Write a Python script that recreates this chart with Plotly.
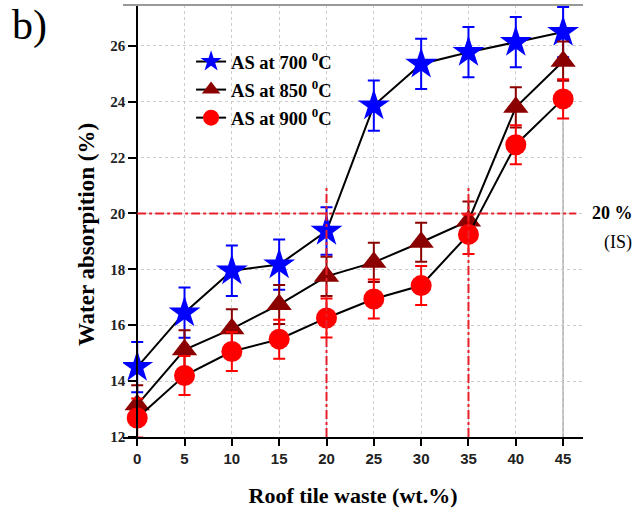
import plotly.graph_objects as go

x_vals = [0, 5, 10, 15, 20, 25, 30, 35, 40, 45]
as700 = [14.5, 16.45, 17.95, 18.17, 19.37, 23.86, 25.35, 25.77, 26.13, 26.49]
as700_err = [0.9, 0.9, 0.9, 0.9, 0.85, 0.9, 0.9, 0.9, 0.9, 0.9]
as850 = [13.15, 15.12, 15.87, 16.74, 17.75, 18.25, 18.97, 19.73, 23.8, 25.45]
as850_err = [0.7, 0.7, 0.7, 0.7, 0.7, 0.7, 0.7, 0.7, 0.72, 0.7]
as900 = [12.68, 14.2, 15.06, 15.5, 16.26, 16.94, 17.42, 19.25, 22.46, 24.1]
as900_err = [0.7, 0.7, 0.7, 0.7, 0.7, 0.7, 0.7, 0.7, 0.7, 0.7]
series_names = ["AS at 700 <sup>0</sup>C", "AS at 850 <sup>0</sup>C", "AS at 900 <sup>0</sup>C"]
x_ticks = [0, 5, 10, 15, 20, 25, 30, 35, 40, 45]
y_ticks = [12, 14, 16, 18, 20, 22, 24, 26]

XMIN, XMAX = -1.5, 47.1
YMIN, YMAX = 12, 27.46

serif = "Liberation Serif"
sans = "Liberation Sans"

fig = go.Figure()
specs = [
    (as700, as700_err, "star", "#0000FF", 24),
    (as850, as850_err, "triangle-up", "#8B0000", 22),
    (as900, as900_err, "circle", "#FF0000", 21),
]
for i, ((vals, err, sym, col, sz), name) in enumerate(zip(specs, series_names)):
    fig.add_trace(go.Scatter(
        x=x_vals, y=vals, mode="lines+markers",
        name="<b>" + name + "</b>", legendgroup="g%d" % i,
        line=dict(color="black", width=2),
        marker=dict(symbol=sym, color=col, size=sz, line=dict(width=0)),
        error_y=dict(type="data", array=err, visible=True, color=col, thickness=2, width=6),
    ))

# reference lines
fig.add_shape(type="line", x0=0, x1=46.4, y0=20, y1=20, xref="x", yref="y",
              line=dict(color="#E8202A", width=2, dash="dashdot"))
for xv in [20, 35]:
    fig.add_shape(type="line", x0=xv, x1=xv, y0=12, y1=21, xref="x", yref="y",
                  line=dict(color="#E8202A", width=2, dash="dashdot"))
# frame lines
fig.add_shape(type="line", x0=0, x1=1, y0=1, y1=1, xref="paper", yref="paper",
              line=dict(color="#999999", width=2))
fig.add_shape(type="line", x0=45, x1=45, y0=12, y1=YMAX, xref="x", yref="y",
              line=dict(color="#AAAAAA", width=1.5), layer="below")

fig.add_annotation(text="b)", xref="paper", yref="paper", x=-0.245, y=1.012, showarrow=False,
                   xanchor="left", yanchor="top", font=dict(family=serif, size=42, color="black"))
fig.add_annotation(text="<b>20 %</b>", xref="paper", yref="y", x=1.015, y=20, showarrow=False,
                   xanchor="left", yanchor="middle", font=dict(family=serif, size=18, color="black"))
fig.add_annotation(text="(IS)", xref="paper", yref="y", x=1.041, y=18.95, showarrow=False,
                   xanchor="left", yanchor="middle", font=dict(family=serif, size=18, color="black"))
fig.add_annotation(text="<b>Water absorpition (%)</b>", xref="paper", yref="paper",
                   x=-0.078, y=0.4676, textangle=-90, showarrow=False,
                   xanchor="center", yanchor="middle",
                   font=dict(family=serif, size=23, color="black"))

fig.update_layout(
    width=639, height=515,
    margin=dict(l=123, r=56, t=5, b=78),
    paper_bgcolor="white", plot_bgcolor="white",
    showlegend=True,
    legend=dict(x=0.148, y=0.912, xanchor="left", yanchor="top",
                bgcolor="rgba(0,0,0,0)", borderwidth=0,
                font=dict(family=serif, size=18.5, color="black"),
                tracegroupgap=1, itemsizing="trace"),
    xaxis=dict(range=[XMIN, XMAX], tickmode="array", tickvals=x_ticks,
               ticktext=["<b>%d</b>" % t for t in x_ticks],
               showline=True, linecolor="black", linewidth=2,
               ticks="outside", ticklen=7, tickwidth=2, tickcolor="black",
               tickfont=dict(family=sans, size=15, color="#222222"),
               showgrid=True, gridcolor="#CCCCCC", griddash="dot", gridwidth=1,
               zeroline=False,
               title=dict(text="<b>Roof tile waste (wt.%)</b>", standoff=22,
                          font=dict(family=serif, size=22, color="black"))),
    yaxis=dict(range=[YMIN, YMAX], tickmode="array", tickvals=y_ticks,
               ticktext=["<b>%d</b>" % t for t in y_ticks],
               anchor="free", position=(0 - XMIN) / (XMAX - XMIN),
               showline=True, linecolor="black", linewidth=2,
               ticks="outside", ticklen=8, tickwidth=2, tickcolor="black",
               tickfont=dict(family=serif, size=15, color="#222222"),
               showgrid=True, gridcolor="#CCCCCC", griddash="dot", gridwidth=1,
               zeroline=False),
)

fig.write_html("out.html")
